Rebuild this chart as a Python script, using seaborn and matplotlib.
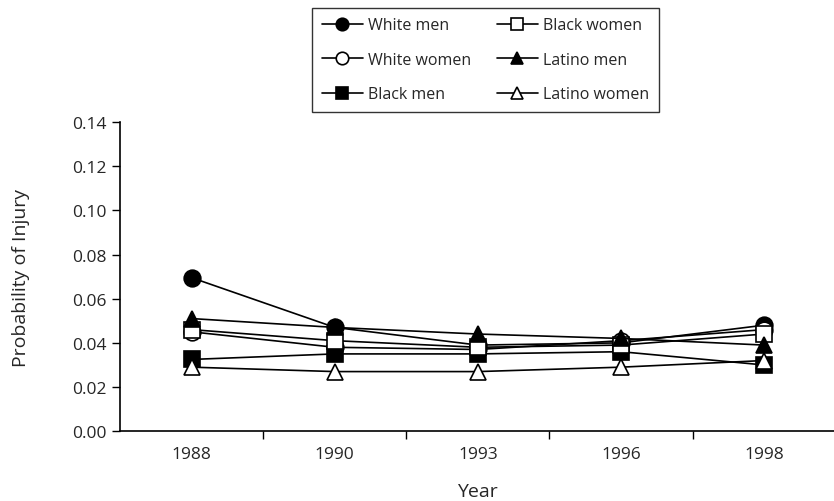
import numpy as np
import pandas as pd
import matplotlib
matplotlib.use("Agg")
import matplotlib.pyplot as plt
import seaborn as sns

years = ["1988", "1990", "1993", "1996", "1998"]

white_men = [0.0695, 0.047, 0.039, 0.040, 0.048]
white_women = [0.045, 0.038, 0.037, 0.041, 0.046]
black_men = [0.0325, 0.035, 0.035, 0.036, 0.030]
black_women = [0.046, 0.041, 0.038, 0.039, 0.044]
latino_men = [0.051, 0.047, 0.044, 0.042, 0.039]
latino_women = [0.029, 0.027, 0.027, 0.029, 0.032]

series = [
    ("White men", white_men, "o", "black"),
    ("White women", white_women, "o", "white"),
    ("Black men", black_men, "s", "black"),
    ("Black women", black_women, "s", "white"),
    ("Latino men", latino_men, "^", "black"),
    ("Latino women", latino_women, "^", "white"),
]

sns.set_style("white")
plt.rcParams["font.family"] = ["Open Sans", "DejaVu Sans"]

fig = plt.figure(figsize=(8.34, 5.02), dpi=100)
ax = fig.add_axes([0.144, 0.139, 0.858, 0.616])

xpos = np.arange(len(years))
for name, vals, mk, fc in series:
    df = pd.DataFrame({"x": xpos, "y": vals})
    sns.lineplot(data=df, x="x", y="y", ax=ax, color="black", linewidth=1.2,
                 marker=mk, markersize=12, markerfacecolor=fc,
                 markeredgecolor="black", markeredgewidth=1.2, label=name)

ax.set_xlim(-0.5, len(years) - 0.5)
ax.set_ylim(0, 0.14)
ax.set_yticks(np.arange(0, 0.141, 0.02))
ax.set_yticklabels([f"{v:.2f}" for v in np.arange(0, 0.141, 0.02)])
ax.set_xticks(xpos)
ax.set_xticklabels(years)
ax.set_xticks(np.arange(0.5, len(years) - 1, 1.0), minor=True)
ax.tick_params(axis="x", which="major", length=0, pad=11, labelsize=12.5)
ax.tick_params(axis="x", which="minor", length=6, width=1, direction="out", color="black")
ax.tick_params(axis="y", length=6, width=1, direction="out", color="black", labelsize=12.5, pad=4)
ax.xaxis.set_ticks_position("bottom")
ax.yaxis.set_ticks_position("left")

for side in ["top", "right"]:
    ax.spines[side].set_visible(False)
for side in ["left", "bottom"]:
    ax.spines[side].set_color("black")
    ax.spines[side].set_linewidth(1.2)

ax.set_xlabel("Year", fontsize=14, labelpad=14)
ax.set_ylabel("Probability of Injury", fontsize=14, labelpad=30)

leg = ax.legend(ncol=2, loc="center", bbox_to_anchor=(0.582, 0.879),
                bbox_transform=fig.transFigure, frameon=True, fancybox=False,
                edgecolor="black", fontsize=11.5, handlelength=2.6,
                columnspacing=1.6, labelspacing=1.15, borderpad=0.6,
                handletextpad=0.3, markerscale=0.75)
leg.get_frame().set_linewidth(1.0)

fig.savefig("out.png", dpi=100)
